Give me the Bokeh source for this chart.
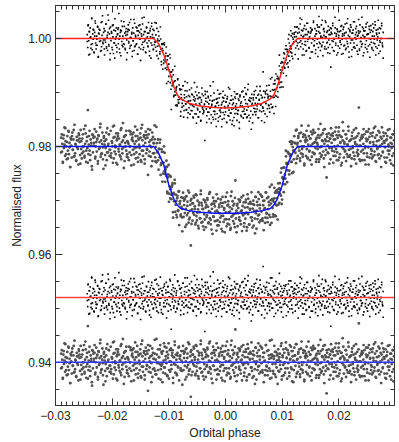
import numpy as np
from bokeh.plotting import figure
from bokeh.models import Range1d, LinearAxis, FixedTicker, PrintfTickFormatter, Span, ColumnDataSource
from bokeh.embed import file_html
from bokeh.resources import INLINE

# ---------------- data ----------------
X_TICKS = [-0.03, -0.02, -0.01, 0.0, 0.01, 0.02]
X_TICK_LABELS = ["\u22120.03", "\u22120.02", "\u22120.01", "0.00", "0.01", "0.02"]
Y_TICKS = [0.94, 0.96, 0.98, 1.00]
Y_TICK_LABELS = ["0.94", "0.96", "0.98", "1.00"]

# transit models (orbital phase, normalised flux)
MODEL_PHASE = [-0.0300, -0.0127, -0.0118, -0.0109, -0.0100, -0.0091, -0.0085, -0.0079, -0.0065,
               -0.0045, -0.0020, 0.0000, 0.0020, 0.0045, 0.0065, 0.0079, 0.0085, 0.0091, 0.0100,
               0.0109, 0.0118, 0.0127, 0.0298]
MODEL_RED = [1.0000, 1.0000, 0.9990, 0.9970, 0.9942, 0.9910, 0.9895, 0.9888, 0.9880,
             0.9875, 0.9872, 0.9871, 0.9872, 0.9875, 0.9880, 0.9888, 0.9895, 0.9910, 0.9942,
             0.9970, 0.9990, 1.0000, 1.0000]
MODEL_BLUE = [0.9800, 0.9800, 0.9787, 0.9766, 0.9728, 0.9702, 0.9691, 0.9685, 0.9681,
              0.9678, 0.9676, 0.9676, 0.9676, 0.9678, 0.9681, 0.9685, 0.9691, 0.9702, 0.9728,
              0.9766, 0.9787, 0.9800, 0.9800]

# residual offsets used in the lower half of the plot
RES_OFFSET_RED = 0.952
RES_OFFSET_BLUE = 0.940

# phase coverage of the two data sets
BLACK_START, BLACK_END = -0.0244, 0.0278
GRAY_START, GRAY_END = -0.0290, 0.0298

# flux step of the residual lists below
RES_UNIT_BLACK = 0.00014
RES_UNIT_GRAY = 0.00016

# residuals of the black (small dots) data set, in RES_UNIT_BLACK (two runs)
RES_BLACK_A = [
    5, -12, 18, -3, 9, -21, 14, 2, -8, 27, -15, 6, -1, 11, -19, 8, 23, -6, -14, 3,
    -9, 16, -25, 7, 12, -4, 0, -17, 21, -11, 4, 30, -7, -2, 13, -22, 10, -5, 19, -13,
    1, -16, 8, 24, -10, 6, -28, 15, -3, 9, -12, 17, 2, -20, 11, -6, 26, -1, -9, 14,
    -18, 5, 12, -7, 33, -14, 3, 8, -23, 10, -4, 16, -11, 0, 22, -8, 7, -15, 4, 13,
    -2, -19, 9, 18, -6, 11, -13, 1, 25, -9, 6, -24, 14, -3, 7, -16, 20, -10, 2, 15,
    -7, 10, -21, 4, 17, -12, 8, -1, -29, 12, 3, -8, 19, -15, 5, 28, -4, 9, -18, 0,
    14, -6, 7, -11, 21, -3, -17, 10, 2, -26, 16, -9, 5, 12, -14, 1, -7, 23, -2, 8,
    -13, 18, -5, 3, -20, 11, 6, -10, 27, -1, -16, 9, 4, -22, 13, -7, 15, 0, -12, 6,
    20, -8, -3, 14, -18, 7, 1, 24, -11, 5, -42, 10, -6, 17, 2, -14, 8, -4, 12, -19,
    3, 9, -15, 22, -5, -9, 16, -2, 11, -23, 6, 13, -10, 0, 19, -7, -13, 4, 26, -3,
    -11, 7, 15, -20, 2, 10, -6, 18, -14, 4, -1, 21, -9, 12, -17, 6, -3, 29, -12, 8,
    1, -24, 13, -4, 9, -15, 17, 3, -8, 11, -19, 5, 24, -2, -10, 14, -6, 0, -45, 16,
    7, -3, -12, 20, -7, 12, 4, -16, 9, -1, 15, -21, 2, 8, -13, 34, -5, 10, -9, 1,
    -15, 11, 6, -8, 23, -18, 3, 13, -4, -11, 19, 0, -25, 7, 14, -6, 9, -14, 2, 17,
    -5, 8, -19, 12, 1, -10, 27, -3, 6, -16, 10, -7, 16, -22, 4, 11, -1, -13, 21, -8,
    12, -2, 5, -17, 18, -9, -4, 9, -28, 14, 2, -11, 7, 20, -6, 0, -15, 13, -3, 25,
    -10, 4, 16, -5, -14, 22, -1, 8, -20, 11, 6, -7, -31, 15, 3, -12, 10, -4, 18, -9,
    2, -13, 9, 24, -6, 1, -18, 13, 5, -9, 17, -2, 11, -23, 7, -5, 41, -11, 0, 6,
    -16, 10, -3, 14, -21, 8, 3, -7, 19, -12, 4, 26, -8, 1, -14, 9, -2, 15, -25, 5,
    11, -6, 21, -10, 0, 13, -17, 6, -4, 32, -13, 8, 2, -19, 12, -1, 7, -9, 16, -5,
    -8, 15, -1, -24, 9, 4, -12, 18, -6, 10, -15, 3, 22, -3, -10, 14, -20, 5, 1, 12,
    6, -18, 11, -2, 16, -9, 7, -27, 13, 0, -5, 19, -11, 4, 25, -7, 10, -14, 3, -22,
    17, -4, -9, 12, -16, 5, 20, -1, 8, -13, 2, -26, 14, 9, -6, 11, -18, 0, 23, -10,
    -3, 13, -20, 6, 10, -7, -1, 15, -12, 29, -5, 7, -16, 3, 18, -9, 1, -23, 12, 4,
    9, -11, 2, 21, -14, 8, -5, -19, 16, -2, 11, -8, 5, -38, 13, 6, -12, 20, -4, 0,
    -17, 7, 14, -6, 3, -22, 12, 9, -10, 1, 24, -13, -3, 10, -8, 17, -1, 6, -20, 15,
    4, -9, 19, -15, 8, 0, -4, 26, -11, 13, -18, 2, 9, -6, 15, -24, 7, -2, 11, -12,
    -6, 22, -13, 5, -1, 16, -9, 3, -21, 10, 7, -16, 18, -4, 1, -11, 28, -7, 4, 13,
    -19, 2, 10, -8, 15, -3, -14, 21, 6, -10, 0, 12, -25, 8, 17, -5, -12, 3, 9, -16,
    14, -1, -7, 18, -22, 11, 5, -13, 2, 24, -9, 7, -3, -17, 13, 0, 20, -6, -11, 8,
]
RES_BLACK_B = [
    -4, 17, -22, 9, 1, -13, 26, -7, 12, -18, 3, 20, -9, -1, 15, -24, 6, 11, -3, -16,
    22, -5, 8, -14, -2, 19, -11, 4, 31, -8, 13, -20, 0, 7, -15, 18, -6, -26, 10, 2,
    -12, 6, 14, -1, -19, 11, 23, -9, 3, -7, 16, -13, 9, -28, 5, 12, -4, 21, -10, 1,
    8, -17, -3, 25, -11, 4, -8, 14, -21, 10, 0, 18, -14, 6, 27, -5, -12, 9, -2, -19,
    15, 2, -10, 7, -23, 13, -6, 20, 1, -15, 11, -3, -9, 24, -18, 5, 16, -1, -7, 12,
    -20, 9, 3, -12, 18, -4, 10, -27, 7, 15, -9, 1, 22, -16, 4, -2, 13, -11, 30, -6,
    6, -14, 21, -8, 0, 12, -17, 2, -5, 19, -22, 8, 14, -3, -10, 26, -13, 3, 9, -1,
    -9, 13, -2, -18, 10, 5, 17, -12, 24, -6, -15, 11, 1, -20, 8, 16, -4, -8, 3, 20,
    11, -21, 6, 14, -7, -1, 28, -10, 4, 9, -16, 19, -5, 2, -25, 12, 7, -13, 18, -3,
    -6, 4, -15, 22, 13, -9, 0, 8, -19, 15, 3, -11, 25, -7, 10, -2, -17, 6, -24, 14,
    2, 18, -8, -4, 11, -20, 16, 5, -13, 1, 21, -6, -10, 9, 17, -15, 3, 29, -12, 7,
    -16, 10, 1, -23, 7, 14, -5, 19, -9, -2, 12, -18, 6, 23, -1, -11, 8, -7, 15, -27,
    13, -3, 20, -11, 5, -8, -17, 10, 2, 26, -14, 7, -4, 16, -21, 0, 11, -9, 4, 18,
    -7, 15, -13, 3, -26, 9, 12, -2, 17, -10, 6, -19, 22, 1, -5, 14, -15, 8, -1, 10,
    19, -10, 4, 16, -6, -14, 8, 27, -3, 11, -22, 2, 13, -8, 5, -17, 20, -4, 9, -12,
    0, 7, -18, 12, -1, 21, -9, 3, -15, 6, 18, -24, 9, 15, -7, 1, -11, 24, -5, 13,
    -14, 23, 2, -6, 10, -12, 5, -20, 14, 8, -3, 17, -16, -1, 28, -9, 6, 12, -19, 4,
    9, -5, 16, -21, 3, 12, -10, 7, 0, -13, 20, -7, 4, -25, 11, 18, -2, -15, 7, 22,
    -11, 1, 13, 8, -17, 4, 25, -14, 9, -4, -8, 15, -23, 10, 2, -12, 19, 5, -18, 6,
    16, -8, -1, 11, -14, 19, -6, 3, 22, -11, 7, -2, 12, -20, 14, -5, 0, 17, -9, -26,
]

# residuals of the gray (large dots) data set, in RES_UNIT_GRAY (two runs)
RES_GRAY_A = [
    -7, 14, 3, -19, 9, -2, 22, -11, 6, 0, -15, 12, -5, 18, -9, 4, -24, 10, 1, -13,
    16, -4, 8, -12, 25, -8, 2, -17, 11, -1, 7, -21, 13, 5, -10, 19, -3, -14, 9, 0,
    -6, 20, -11, 3, 15, -18, 6, -2, 42, -9, 12, -5, -16, 8, 1, -23, 14, -7, 10, 4,
    11, -14, 0, 17, -6, 9, -20, 13, -3, 5, 22, -12, 7, -8, 16, -1, -26, 12, 2, -10,
    -2, 8, -16, 21, -7, 3, 14, -11, -4, 18, -13, 6, 0, -19, 10, 24, -6, 1, -9, 15,
    7, -21, 12, -3, 9, -10, 2, 19, -15, 5, -8, 27, -1, 11, -17, 4, 13, -5, -12, 6,
    -13, 3, 18, -7, 0, 14, -22, 8, 10, -4, 16, -9, -2, 23, -14, 6, -1, 12, -18, 9,
    2, -9, 15, -16, 21, -5, 7, -11, 1, 13, -20, 4, 17, -8, -3, 10, -33, 14, 5, -6,
    19, -12, -1, 8, -17, 11, 4, -7, 26, -10, 3, -14, 9, 0, 15, -19, 6, -2, 20, -8,
    -4, 10, -23, 13, 2, -6, 18, -13, 7, -1, 12, -16, 5, 22, -9, 1, -11, 16, -3, 8,
    14, -18, 6, -2, 24, -12, 9, 3, -15, 11, -5, 17, -21, 4, 8, -7, 13, -10, 0, 19,
    -9, 5, 12, -20, 1, 16, -6, 10, -3, -14, 21, -8, 7, -40, 14, 2, -11, 9, 18, -4,
    6, -15, 20, -5, -10, 13, 3, -19, 11, 0, -7, 25, -12, 8, 4, -16, 15, -2, -8, 12,
    -17, 9, -3, 15, 7, -11, 22, -6, 1, -13, 10, 5, -24, 18, -4, 11, -9, 2, 14, -20,
    3, -8, 17, -14, 10, 0, -5, 12, -18, 8, 19, -3, -10, 6, -22, 13, 1, -7, 24, -12,
    10, 1, -13, 7, -19, 20, -4, 5, 14, -9, -1, 11, -16, 38, -6, 3, 9, -15, 0, 16,
    -5, 13, -9, 2, 18, -21, 8, -3, 12, -12, 6, -7, 15, 0, -17, 21, -2, 10, -14, 4,
    12, -6, 23, -10, 4, 9, -16, 1, -8, 17, -2, -20, 11, 7, -5, 14, -13, 3, 19, -11,
    -1, 16, -12, 6, -23, 11, 2, -9, 20, -4, 13, -15, 0, 8, -7, 25, -10, 5, -18, 9,
    7, -10, 4, 19, -14, -2, 12, -6, 8, -25, 15, 3, -11, 10, 1, -8, 22, -16, 6, -3,
    -15, 11, 0, -7, 16, 5, -19, 14, -1, 9, -12, 20, 4, -6, 13, -22, 7, 2, -9, 17,
    8, -4, -17, 21, 3, -11, 10, -1, 15, -14, 6, -8, 24, -3, -12, 11, 0, -20, 13, 5,
    -11, 18, 7, -13, 2, 12, -5, -16, 9, 1, -21, 14, -7, 19, 4, -9, 16, -2, 8, -15,
    4, -3, 13, -18, 10, -8, 26, -12, 0, 7, 15, -6, -14, 3, 20, -10, 6, -36, 11, 1,
    -8, 15, -2, 9, -15, 21, 4, -5, 12, -19, 8, 0, 17, -11, -3, 13, -7, 10, -16, 22,
    13, -9, 5, -22, 11, -1, 7, 18, -13, 3, -6, 14, -17, 9, 2, -12, 23, -4, 6, -10,
    -3, 8, -14, 16, 0, -7, 19, -11, 5, 10, -20, 2, 12, -4, -9, 45, -15, 7, 1, -6,
    9, -16, 11, 3, -8, 14, -2, -21, 17, 6, -12, 8, -1, 20, -13, 4, 15, -9, -5, 12,
    -12, 5, 21, -6, 10, -17, 1, 13, -3, -10, 18, 7, -14, 0, 11, -24, 9, 3, -7, 16,
    6, -13, -1, 15, -19, 8, 12, -5, 2, -9, 20, -16, 4, 10, -2, -11, 14, -22, 7, 0,
]
RES_GRAY_B = [
    10, -6, -18, 13, 2, 21, -9, 5, -14, 17, -1, -24, 8, 12, -4, 19, -11, 3, -16, 7,
    -3, 15, 9, -20, 6, -8, 14, 0, -13, 24, -5, 11, -19, 2, 18, -10, 4, -27, 13, 1,
    20, -12, 5, 8, -17, 12, -2, 26, -9, 3, -15, 10, 6, -22, 16, -7, 1, 14, -4, -11,
    -8, 4, 23, -14, 11, -1, -19, 9, 15, -6, 2, -12, 21, -3, 7, -25, 12, 0, 18, -9,
    5, -16, 0, 17, -10, 14, 6, -21, 3, 12, -7, 19, -13, 8, -2, 10, -18, 25, -5, 11,
    -15, 9, 13, -4, 20, -11, 1, 7, -23, 16, -8, 4, 10, -14, 27, -1, -9, 6, 15, -20,
    12, -2, -12, 22, -6, 3, 17, -15, 9, -19, 14, 1, -8, 11, -24, 6, 20, -3, -13, 8,
    -6, 18, 7, -9, 2, -26, 13, 10, -4, 15, -17, 5, 23, -10, 0, 12, -15, 9, -2, 16,
    3, -13, 19, -1, -16, 8, -7, 21, 11, -11, 4, -20, 14, 6, -5, 17, -12, 2, 24, -8,
    -19, 11, -4, 14, 8, -9, 22, -14, 1, 7, -10, 16, -3, -21, 12, 4, -7, 19, -15, 9,
    14, -7, 2, -17, 25, -3, 9, -12, 18, 0, -22, 11, 6, -8, 15, -13, 3, -1, 20, -16,
    -1, 12, -21, 6, 16, -14, 3, 10, -6, -18, 13, 8, -25, 17, 1, -9, 22, -4, 7, -11,
    17, -9, 11, 1, -15, 20, -5, -10, 14, 4, -19, 9, 26, -2, -13, 7, 12, -17, 2, 10,
    -10, 6, -3, 19, -20, 8, 15, -1, -12, 23, 5, -7, 11, -16, 3, 18, -8, 13, -23, 1,
    8, 21, -13, 4, 12, -5, -17, 16, 0, -9, 14, -22, 7, 10, -3, -14, 24, -6, 9, 17,
    -12, 3, 16, -8, 5, -18, 10, 2, 20, -15, -1, 13, -10, 6, 19, -24, 8, -4, 14, -7,
    6, -20, 9, 13, -2, 15, -11, -6, 8, 22, -16, 1, 17, -13, 4, 11, -19, 28, -3, 5,
    -5, 14, -9, 2, 18, -12, 7, -23, 12, -2, 9, -15, 3, 21, -7, -11, 15, 1, -17, 10,
    13, -4, 20, -16, 0, 9, -8, 17, -21, 11, 5, -3, -14, 16, 2, -10, 23, -18, 6, -1,
    -9, 16, 1, -11, 22, -6, 12, 4, -18, 7, -13, 19, 0, -5, 10, -20, 3, 14, -8, 18,
]

# ---------------- build the plot ----------------
X_MIN, X_MAX = -0.0300, 0.0298
Y_MIN, Y_MAX = 0.9320, 1.0061


def make_source(res_lists, unit, start, end, model):
    xs, rs = [], []
    for r in res_lists:
        xs.append(np.linspace(start, end, len(r)))
        rs.append(np.array(r) * unit)
    x = np.concatenate(xs)
    r = np.concatenate(rs)
    return x, r, np.interp(x, MODEL_PHASE, model) + r


xb, rb, lcb = make_source([RES_BLACK_A, RES_BLACK_B], RES_UNIT_BLACK, BLACK_START, BLACK_END, MODEL_RED)
xg, rg, lcg = make_source([RES_GRAY_A, RES_GRAY_B], RES_UNIT_GRAY, GRAY_START, GRAY_END, MODEL_BLUE)
src_b = ColumnDataSource(dict(x=xb, lc=lcb, rs=RES_OFFSET_RED + rb))
src_g = ColumnDataSource(dict(x=xg, lc=lcg, rs=RES_OFFSET_BLUE + rg))

FONT = "Liberation Sans"
AX_COL = "#333333"

p = figure(width=399, height=442,
           x_range=Range1d(X_MIN, X_MAX), y_range=Range1d(Y_MIN, Y_MAX),
           output_backend="svg", toolbar_location=None,
           min_border_left=55, min_border_right=5, min_border_top=5, min_border_bottom=36)
p.xgrid.visible = False
p.ygrid.visible = False
p.outline_line_color = AX_COL
p.background_fill_color = "white"
p.border_fill_color = "white"

x_minor = list(np.round(np.arange(-0.030, 0.0300, 0.001), 3))
y_minor = list(np.round(np.arange(0.930, 1.0065, 0.005), 3))


def style_axis(ax, ticks, minor, labels=None):
    ax.ticker = FixedTicker(ticks=ticks, minor_ticks=minor)
    ax.major_tick_in = 7
    ax.major_tick_out = 0
    ax.minor_tick_in = 4
    ax.minor_tick_out = 0
    ax.axis_line_color = AX_COL
    ax.major_tick_line_color = AX_COL
    ax.minor_tick_line_color = AX_COL
    if labels is None:
        ax.major_label_overrides = {t: "" for t in ticks}
        ax.major_label_text_font_size = "0px"
        ax.major_label_standoff = 0
    else:
        ax.formatter = PrintfTickFormatter(format="%.2f")
        ax.major_label_overrides = dict(zip(ticks, labels))
        ax.major_label_text_font = FONT
        ax.major_label_text_font_size = "12px"
        ax.major_label_text_color = "#222222"
        ax.axis_label_text_font = FONT
        ax.axis_label_text_font_size = "12px"
        ax.axis_label_text_font_style = "normal"
        ax.axis_label_text_color = "#222222"


style_axis(p.xaxis[0], X_TICKS, x_minor, X_TICK_LABELS)
p.xaxis[0].axis_label = "Orbital phase"
p.xaxis[0].major_label_standoff = 5
p.xaxis[0].axis_label_standoff = 3

style_axis(p.yaxis[0], Y_TICKS, y_minor, Y_TICK_LABELS)
p.yaxis[0].axis_label = "Normalised flux"
p.yaxis[0].major_label_standoff = 4
p.yaxis[0].axis_label_standoff = 1

top_ax = LinearAxis()
style_axis(top_ax, X_TICKS, x_minor)
p.add_layout(top_ax, "above")
right_ax = LinearAxis()
style_axis(right_ax, Y_TICKS, y_minor)
p.add_layout(right_ax, "right")

# data points
p.scatter("x", "lc", source=src_g, marker="circle", size=2.8, fill_color="#505050", line_color=None)
p.scatter("x", "rs", source=src_g, marker="circle", size=2.8, fill_color="#505050", line_color=None)
p.scatter("x", "lc", source=src_b, marker="square", size=1.6, fill_color="black", line_color=None)
p.scatter("x", "rs", source=src_b, marker="square", size=1.6, fill_color="black", line_color=None)

# models and residual zero lines
p.line(MODEL_PHASE, MODEL_RED, line_color="#ff2020", line_width=1.5)
p.line(MODEL_PHASE, MODEL_BLUE, line_color="#1010ff", line_width=1.5)
p.add_layout(Span(location=RES_OFFSET_RED, dimension="width", line_color="#ff4040", line_width=1.5))
p.add_layout(Span(location=RES_OFFSET_BLUE, dimension="width", line_color="#3030ff", line_width=1.5))

open("out.html", "w").write(file_html(p, INLINE))
